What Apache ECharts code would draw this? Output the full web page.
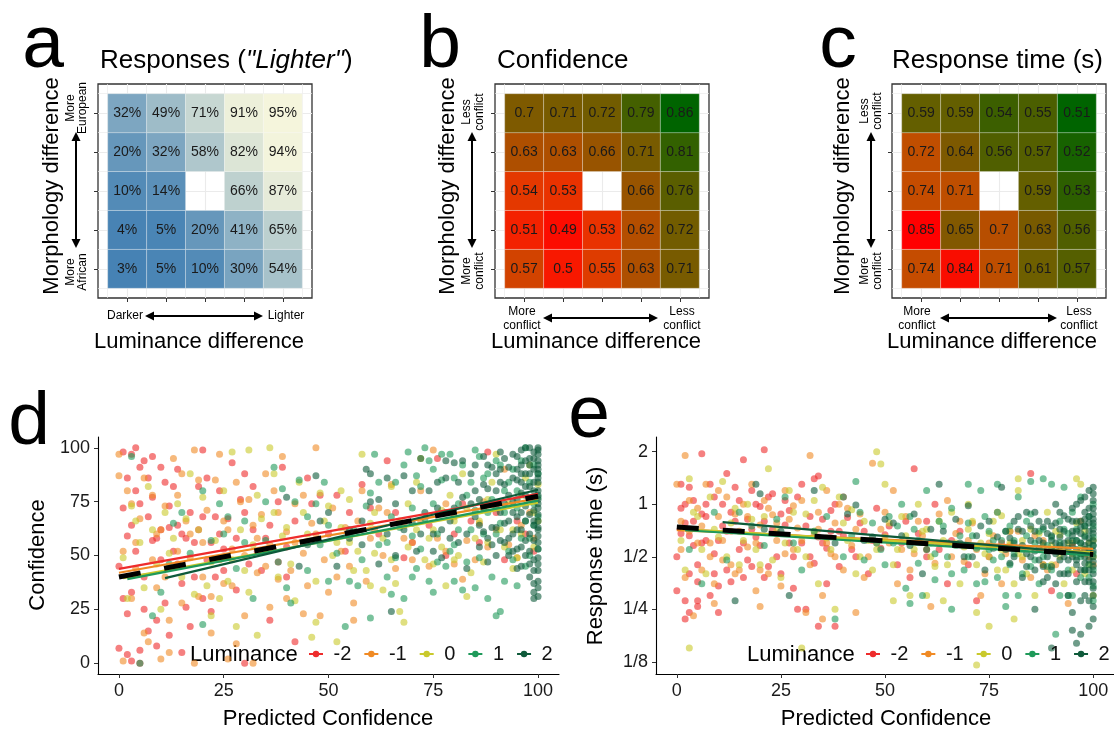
<!DOCTYPE html>
<html>
<head>
<meta charset="utf-8">
<title>figure</title>
<script src="https://cdn.jsdelivr.net/npm/echarts@6.0.0/dist/echarts.min.js"></script>
<style>
  html, body { margin: 0; padding: 0; background: #fff; }
  #fig { width: 1114px; height: 731px; }
</style>
</head>
<body>
<div id="fig"></div>
<script>
// ---------- data ----------
var levels = [-2, -1, 0, 1, 2];
var lumNames = ['-2', '-1', '0', '1', '2'];

// heatmaps: rows bottom -> top (morphology -2..2), columns luminance -2..2, null = no stimulus
var lighterPct = [
  [3, 5, 10, 30, 54],
  [4, 5, 20, 41, 65],
  [10, 14, null, 66, 87],
  [20, 32, 58, 82, 94],
  [32, 49, 71, 91, 95]
];
var confMean = [
  [0.57, 0.5, 0.55, 0.63, 0.71],
  [0.51, 0.49, 0.53, 0.62, 0.72],
  [0.54, 0.53, null, 0.66, 0.76],
  [0.63, 0.63, 0.66, 0.71, 0.81],
  [0.7, 0.71, 0.72, 0.79, 0.86]
];
var rtMean = [
  [0.74, 0.84, 0.71, 0.61, 0.57],
  [0.85, 0.65, 0.7, 0.63, 0.56],
  [0.74, 0.71, null, 0.59, 0.53],
  [0.72, 0.64, 0.56, 0.57, 0.52],
  [0.59, 0.59, 0.54, 0.55, 0.51]
];

var pctTicks = [0, 25, 50, 75, 100];
var rtTicks = [0.125, 0.25, 0.5, 1, 2];
var rtTickLabels = ['1/8', '1/4', '1/2', '1', '2'];

// panel d: [predicted confidence, confidence] per luminance level
var confM2 = [[0,7],[1,72],[1,98],[2,59],[2,23],[3,97],[3,33],[4,100],[4,80],[5,91],[5,6],[6,94],[6,25],[7,86],[7,15],[8,57],[8,77],[9,58],[9,20],[10,91],[10,62],[11,84],[12,63],[12,13],[13,82],[14,64],[14,46],[15,37],[16,58],[17,17],[18,56],[19,82],[20,99],[20,68],[21,48],[22,24],[23,68],[24,60],[25,43],[27,93],[28,34],[29,76],[30,70],[31,46],[32,82],[33,52],[35,58],[36,20],[38,47],[39,91],[40,54],[42,10],[45,86],[48,78],[52,78],[55,70],[60,72],[64,94],[68,49],[76,95],[80,60],[84,66],[88,98],[92,48],[97,60],[3,1],[5,0],[15,5],[30,0],[2,4],
  [0,45],[1,30],[2,86],[3,64],[4,52],[5,74],[6,40],[7,68],[8,96],[9,8],[10,48],[11,28],[12,73],[13,52],[14,90],[15,60],[16,26],[17,70],[18,40],[19,62],[20,30],[21,86],[22,56],[23,40],[24,80],[25,53],[26,67],[28,58],[30,88],[32,62],[34,43],[36,64],[38,75],[40,40],[42,66],[44,56],[46,74],[50,60],[54,52],[58,83],[62,60],[66,70],[70,56],[74,64],[78,50],[82,74],[86,56],[90,70],[95,66],[99,52]];
var confM1 = [[0,97],[0,87],[1,1],[2,80],[3,74],[4,56],[5,67],[6,86],[7,10],[8,48],[9,35],[10,62],[11,73],[12,20],[13,95],[14,52],[15,88],[16,66],[17,49],[18,99],[19,31],[20,40],[21,71],[22,31],[23,85],[24,97],[25,37],[26,62],[27,53],[28,9],[29,75],[30,22],[31,76],[32,0],[33,58],[34,69],[35,45],[36,26],[37,80],[38,39],[39,96],[40,61],[41,43],[42,74],[44,51],[46,65],[47,100],[48,22],[50,33],[52,40],[54,63],[56,28],[58,80],[60,58],[62,72],[65,83],[68,58],[70,48],[72,80],[75,99],[78,74],[80,46],[82,39],[86,65],[88,54],[92,90],[95,49],[98,70],
  [1,52],[3,30],[4,44],[6,14],[8,78],[9,60],[11,40],[12,5],[14,78],[15,28],[17,60],[19,85],[20,56],[22,14],[24,48],[25,66],[27,36],[28,84],[30,50],[32,64],[33,42],[35,88],[36,55],[38,70],[40,30],[42,56],[44,78],[45,36],[47,60],[49,48],[51,72],[53,52],[55,45],[57,66],[59,38],[61,62],[63,50],[64,70],[66,44],[68,64],[70,56],[72,66],[74,45],[76,58],[78,52],[80,68],[83,57],[85,48],[87,75],[90,62],[93,55],[96,64],[99,58],[18,0],[26,2],[10,2],[44,23],[56,20]];
var conf0 = [[1,49],[3,73],[4,66],[6,35],[8,62],[10,25],[12,51],[14,74],[16,67],[18,32],[20,77],[22,47],[24,30],[26,38],[27,98],[28,17],[30,43],[31,99],[32,55],[34,67],[36,100],[37,88],[38,40],[40,63],[42,29],[44,70],[46,12],[47,19],[48,79],[50,73],[52,56],[53,80],[55,56],[56,43],[58,97],[60,65],[61,51],[63,34],[65,82],[66,37],[67,24],[69,74],[71,62],[72,95],[74,58],[75,46],[77,71],[78,36],[80,66],[82,88],[83,31],[85,58],[87,47],[88,76],[90,97],[92,54],[94,62],[95,49],[96,78],[98,92],[99,70],[100,83],
  [2,30],[5,56],[7,82],[9,46],[11,70],[13,58],[15,40],[17,88],[19,62],[21,36],[23,57],[25,80],[27,48],[29,62],[31,33],[33,78],[35,52],[37,70],[39,59],[41,46],[43,84],[45,60],[47,38],[49,66],[51,50],[53,63],[55,76],[57,52],[59,43],[61,70],[63,58],[65,48],[67,66],[69,54],[71,84],[73,48],[75,62],[77,54],[79,78],[81,50],[83,72],[84,42],[86,66],[88,56],[89,84],[91,62],[93,74],[94,44],[96,60],[97,86],[99,54],[100,66],[33,13],[52,10],[22,22],[68,19],[60,36],[80,48]];
var confP1 = [[3,96],[5,0],[10,33],[13,65],[17,51],[20,18],[22,57],[24,74],[26,68],[28,44],[30,66],[32,30],[35,57],[37,91],[39,81],[41,28],[43,85],[45,43],[47,74],[49,84],[50,38],[52,51],[54,17],[56,62],[57,36],[59,73],[60,21],[61,97],[62,55],[64,40],[65,68],[66,49],[68,30],[69,98],[70,72],[71,87],[72,53],[73,100],[74,38],[75,90],[76,60],[77,85],[78,45],[79,97],[80,55],[81,74],[82,34],[83,78],[84,62],[85,99],[86,49],[87,86],[88,70],[89,40],[90,22],[90,94],[91,24],[91,65],[92,80],[93,52],[94,90],[95,72],[96,58],[97,100],[97,45],[98,84],[99,64],[99,92],[100,77],[100,53],
  [60,79],[62,84],[64,56],[66,84],[67,63],[68,92],[70,59],[71,44],[72,82],[73,67],[74,94],[75,74],[76,47],[77,97],[78,70],[79,52],[80,86],[81,62],[82,92],[83,47],[84,84],[85,71],[86,96],[87,60],[88,88],[89,76],[90,60],[91,92],[92,70],[93,84],[94,48],[95,80],[96,94],[97,66],[98,58],[99,74],[100,88],[100,68],[98,50],[95,36],[92,38],[88,30],[85,35],[80,38],[75,33],[70,40],[65,32],[58,48],[55,38],[50,64],[48,55],[45,68],[42,75],[38,47],[35,75],[30,56],[25,60],[20,80],[15,70],[8,22],[12,46],[40,35]];
var confP2 = [[40,77],[43,45],[47,87],[50,70],[55,58],[58,55],[59,90],[60,75],[62,46],[64,86],[65,24],[66,50],[68,87],[70,65],[71,52],[72,95],[74,80],[75,60],[76,72],[77,49],[78,86],[79,66],[80,93],[81,56],[82,77],[83,44],[84,88],[85,68],[86,54],[87,96],[88,81],[88,47],[89,63],[90,88],[90,72],[91,57],[91,98],[92,83],[92,65],[93,50],[93,91],[94,75],[94,60],[95,96],[95,85],[95,68],[95,53],[96,92],[96,79],[96,62],[96,45],[97,100],[97,88],[97,73],[97,57],[98,95],[98,82],[98,69],[98,52],[98,40],[99,98],[99,90],[99,77],[99,64],[99,48],[99,37],[99,33],[99,30],[100,100],[100,94],[100,86],[100,80],[100,72],[100,66],[100,59],[100,53],[100,46],[100,97],[100,90],[100,76],[100,62],[100,35],[100,31],
  [85,92],[86,76],[87,61],[87,83],[88,58],[89,91],[89,74],[90,50],[90,63],[91,84],[91,70],[92,95],[92,56],[93,78],[93,66],[94,86],[94,52],[94,97],[95,76],[95,62],[95,44],[96,88],[96,70],[96,54],[96,99],[97,94],[97,82],[97,66],[97,50],[98,100],[98,88],[98,76],[98,60],[98,46],[99,95],[99,84],[99,71],[99,57],[99,43],[100,99],[100,92],[100,84],[100,78],[100,69],[100,63],[100,56],[100,49],[100,43],[100,38],[100,88],[100,74],[99,80],[99,66],[98,92],[97,78],[96,84],[95,90],[94,70],[93,58],[92,74],[91,90],[90,80],[89,55],[88,92],[87,72],[86,64],[85,80],[84,74],[83,60],[82,94],[81,84],[80,72],[79,58],[78,94],[77,62],[76,84],[75,52],[73,70],[72,60],[70,80],[68,62],[66,74],[64,60],[62,76],[60,88],[58,66],[55,62],[52,45],[48,66],[45,55]];

// panel e: [predicted confidence, response time in s]
var rtM2 = [[0,0.32],[1,0.95],[1,1.3],[2,0.78],[2,0.28],[3,0.66],[3,1.25],[4,0.58],[4,1.05],[5,0.45],[5,0.36],[6,1.95],[6,0.88],[7,1.0],[7,0.62],[8,0.3],[9,1.1],[9,0.52],[10,0.34],[11,0.75],[12,1.5],[12,0.42],[13,0.9],[14,1.25],[15,0.55],[16,1.8],[16,0.38],[17,0.82],[18,1.2],[18,0.44],[19,0.65],[20,0.97],[21,2.05],[21,0.38],[22,1.1],[23,0.72],[24,0.5],[25,0.88],[26,1.05],[27,0.6],[28,0.33],[30,1.3],[31,0.25],[32,0.85],[33,0.46],[34,1.45],[35,0.6],[36,0.35],[37,0.92],[38,0.2],[39,0.7],[40,1.1],[42,0.55],[44,0.78],[46,0.4],[48,0.95],[50,0.67],[53,0.45],[55,0.8],[57,1.6],[60,0.5],[62,1.0],[65,0.35],[68,0.7],[72,0.28],[78,0.6],[85,1.5],[90,0.32],[95,0.6],
  [0,0.5],[1,0.68],[2,1.0],[3,0.4],[4,0.8],[5,0.28],[6,0.6],[7,0.85],[8,1.3],[9,0.4],[10,0.62],[11,1.0],[12,0.7],[13,0.36],[14,0.8],[15,1.05],[16,0.6],[17,0.48],[18,0.72],[19,1.0],[20,0.58],[21,0.8],[22,0.44],[23,1.15],[24,0.68],[25,0.4],[26,0.76],[27,0.92],[28,0.5],[29,1.1],[30,0.6],[31,0.75],[32,0.5],[33,1.4],[34,0.65],[35,0.82],[36,0.56],[37,0.7],[38,1.0],[39,0.44],[40,0.66],[41,0.84],[43,0.5],[45,0.7],[47,0.62],[49,0.56],[51,0.75],[54,0.6],[56,0.38],[58,0.68],[60,0.8],[63,0.55],[66,0.62],[70,0.45],[75,0.5],[80,0.7],[88,0.45],[96,0.4],[98,0.55],[2,0.22],[3,0.24],[5,0.26],[29,0.25],[34,0.2],[10,0.24]];
var rtM1 = [[0,1.3],[1,0.55],[2,1.9],[3,0.7],[4,0.23],[5,0.95],[6,0.42],[7,1.3],[8,0.6],[9,0.27],[10,0.85],[11,0.48],[12,1.1],[13,0.7],[14,0.88],[15,0.42],[16,1.0],[17,0.57],[18,1.3],[19,0.32],[20,0.76],[21,1.05],[22,0.4],[23,0.87],[24,0.62],[25,0.34],[26,1.2],[27,0.82],[28,0.55],[29,0.73],[30,1.05],[31,0.24],[32,1.9],[33,0.67],[34,0.9],[35,0.3],[36,1.2],[37,0.52],[38,0.78],[40,0.42],[41,0.95],[43,0.72],[45,0.38],[47,1.72],[48,0.6],[50,0.9],[52,1.2],[54,0.55],[56,0.42],[58,0.8],[60,0.55],[61,0.26],[63,0.88],[65,1.05],[67,0.68],[69,0.47],[71,0.78],[73,0.3],[75,0.6],[77,0.9],[79,0.52],[82,0.7],[85,0.38],[88,0.62],[91,0.45],[94,0.27],[97,0.8],[99,0.5],
  [1,0.8],[2,0.38],[3,1.05],[5,0.6],[6,0.75],[8,0.5],[10,1.2],[11,0.62],[13,0.45],[15,0.7],[17,0.85],[19,0.6],[20,0.42],[22,0.95],[24,0.78],[26,0.52],[28,0.98],[30,0.62],[32,0.45],[34,0.72],[36,0.6],[38,0.5],[39,1.0],[42,0.58],[44,0.88],[46,0.5],[49,0.72],[51,0.6],[53,0.35],[55,0.85],[57,0.52],[59,0.66],[62,0.46],[64,0.6],[66,0.5],[68,0.8],[70,0.62],[72,0.55],[74,0.4],[76,0.66],[78,0.35],[80,0.58],[83,0.48],[86,0.66],[89,0.42],[92,0.56],[95,0.6],[98,0.52],[100,0.45],[20,0.26],[35,0.22],[43,0.24],[14,0.4],[9,0.35]];
var rt0 = [[1,0.62],[3,0.15],[3,1.4],[5,0.85],[7,0.4],[9,0.72],[11,1.35],[12,0.5],[14,0.95],[16,0.62],[18,0.82],[20,0.45],[22,1.6],[24,0.7],[25,0.38],[27,1.2],[29,0.55],[30,0.15],[31,0.88],[33,1.05],[35,1.25],[36,0.64],[38,0.25],[40,0.78],[42,0.93],[44,0.5],[46,0.62],[47,0.42],[48,2.0],[49,1.7],[50,1.3],[51,0.78],[53,0.55],[55,0.66],[56,0.3],[58,1.0],[60,0.72],[62,0.44],[64,0.62],[66,0.9],[68,0.35],[69,0.57],[70,1.0],[71,0.8],[72,0.12],[72,0.24],[74,0.52],[75,0.68],[77,0.42],[78,0.86],[80,0.6],[81,0.35],[82,1.2],[83,0.5],[85,0.72],[86,0.3],[88,0.58],[89,0.9],[90,0.45],[92,0.67],[93,0.35],[95,0.52],[96,0.78],[97,1.3],[98,0.4],[99,0.6],[100,0.5],[100,0.3],
  [2,0.42],[4,0.9],[6,0.55],[8,1.1],[10,0.65],[13,0.78],[15,0.45],[17,1.0],[19,0.55],[21,0.85],[23,0.48],[26,0.6],[28,0.9],[31,0.5],[33,0.7],[34,0.35],[37,0.55],[39,1.1],[41,0.62],[43,0.4],[45,0.8],[48,0.55],[50,0.65],[52,0.45],[54,0.85],[57,0.55],[59,0.7],[61,0.5],[63,0.8],[65,0.45],[67,0.6],[70,0.72],[72,0.45],[73,0.6],[75,0.5],[76,0.8],[78,0.55],[79,0.42],[80,0.7],[82,0.52],[83,0.62],[84,0.4],[85,0.55],[87,0.68],[88,0.45],[90,0.58],[91,0.7],[92,0.5],[94,0.6],[95,0.42],[97,0.56],[98,0.7],[99,0.45],[100,0.62],[96,1.4],[82,1.4],[64,0.28],[60,0.3],[52,0.28],[81,0.22],[75,0.2]];
var rtP1 = [[3,0.55],[6,0.35],[9,0.9],[12,0.48],[15,0.9],[18,0.75],[21,0.58],[24,0.82],[26,1.1],[28,0.6],[30,0.42],[33,0.7],[36,0.85],[38,0.22],[40,1.1],[42,0.66],[43,1.35],[45,0.48],[47,0.78],[49,0.55],[51,0.85],[52,0.6],[54,1.0],[55,0.33],[57,0.72],[58,0.46],[60,1.2],[61,0.6],[62,0.37],[63,0.8],[65,0.5],[66,0.95],[68,0.66],[69,0.42],[70,0.78],[72,0.56],[73,1.2],[74,0.36],[75,0.7],[76,0.48],[77,0.9],[78,0.62],[79,0.3],[80,0.75],[81,0.52],[82,1.1],[83,0.4],[84,0.66],[85,0.88],[86,0.48],[87,0.35],[88,0.72],[89,0.58],[90,1.3],[90,0.42],[91,0.18],[92,0.8],[93,0.55],[94,0.68],[94,0.3],[95,0.9],[96,0.5],[96,0.62],[97,1.1],[97,0.38],[98,0.75],[98,0.55],[99,0.85],[99,0.45],[100,0.65],[100,0.28],[100,1.0],
  [40,0.5],[44,0.9],[48,0.6],[50,0.45],[53,0.75],[56,0.85],[58,0.62],[59,0.3],[62,0.52],[64,0.75],[66,0.4],[67,0.58],[70,0.5],[71,0.66],[72,0.35],[74,0.85],[75,0.55],[76,0.62],[77,0.38],[78,0.5],[79,0.7],[80,0.45],[81,0.62],[82,0.3],[83,0.55],[84,0.8],[85,0.44],[86,0.6],[87,0.7],[88,0.5],[89,0.44],[90,0.65],[91,0.55],[92,0.3],[92,0.6],[93,0.72],[94,0.42],[95,0.62],[95,0.3],[96,0.72],[97,0.5],[97,0.6],[98,0.42],[98,0.66],[99,0.38],[99,0.56],[100,0.52],[100,0.42],[100,0.75],[100,0.58],[100,0.34],[88,1.4],[85,1.35],[77,1.3],[70,1.3],[93,1.25],[66,0.25],[79,0.26],[56,0.27]];
var rtP2 = [[14,0.28],[19,1.3],[20,1.15],[27,0.3],[33,1.2],[41,0.88],[43,0.99],[47,0.65],[52,0.78],[56,0.58],[59,0.4],[61,0.72],[63,1.3],[65,0.6],[67,0.82],[69,0.5],[70,0.98],[72,0.66],[74,0.42],[75,0.8],[76,0.56],[78,1.25],[79,0.7],[80,0.46],[81,0.6],[82,0.85],[83,0.38],[84,0.52],[85,0.75],[86,0.9],[86,0.25],[87,0.62],[88,0.44],[89,0.8],[90,0.55],[90,0.66],[91,1.0],[91,0.35],[92,0.48],[92,0.72],[93,0.6],[93,0.86],[94,0.4],[94,0.56],[95,0.24],[95,0.7],[95,0.95],[96,0.45],[96,0.62],[96,0.8],[97,0.18],[97,0.52],[97,0.68],[97,1.05],[98,0.3],[98,0.42],[98,0.58],[98,0.75],[98,0.9],[99,0.2],[99,0.36],[99,0.48],[99,0.6],[99,0.7],[99,0.85],[99,1.2],[100,0.26],[100,0.33],[100,0.4],[100,0.47],[100,0.54],[100,0.62],[100,0.72],[100,0.82],[100,0.95],[100,1.15],[100,1.25],[100,0.3],
  [80,0.64],[81,0.5],[82,0.72],[83,0.58],[84,0.9],[84,0.44],[85,0.62],[86,0.54],[86,0.7],[87,0.48],[87,0.8],[88,0.6],[88,0.36],[89,0.68],[89,0.5],[90,0.44],[90,0.75],[91,0.6],[91,0.52],[92,0.65],[92,0.4],[92,0.9],[93,0.5],[93,0.7],[94,0.62],[94,0.82],[94,0.3],[95,0.5],[95,0.58],[95,0.8],[96,0.36],[96,0.7],[96,0.55],[96,1.0],[97,0.6],[97,0.42],[97,0.8],[97,0.28],[98,0.5],[98,0.65],[98,0.82],[98,1.1],[98,0.36],[99,0.54],[99,0.42],[99,0.78],[99,0.95],[99,0.28],[100,0.58],[100,0.68],[100,0.5],[100,0.44],[100,0.36],[100,0.88],[100,1.05],[100,0.78],[100,0.22],[99,0.64],[98,0.46],[97,0.74],[96,0.48],[95,0.66],[94,0.48],[93,0.4],[92,0.58],[91,0.78],[90,0.62],[89,0.38],[88,0.74],[87,0.56],[86,0.42],[85,0.5],[83,0.7],[81,0.8],[79,0.55],[77,0.65],[73,0.75],[71,0.5],[68,0.6],[64,0.7],[60,0.55],[57,0.88],[54,0.66],[50,0.82],[45,0.62],[38,0.6],[25,0.7],[21,0.72],[96,0.16],[95,0.19],[90,0.15]];

// fitted lines per luminance level (-2..2) and the overall fit
var fitConf = [[[0,43.8],[100,78.6]], [[0,42],[100,76.5]], [[1,39.5],[100,74.5]], [[2,39],[100,75.5]], [[11,39.5],[100,80.5]]];
var fitConfAll = [[0,40],[100,77.5]];
var fitRt = [[[0,0.72],[100,0.53]], [[0,0.71],[100,0.555]], [[1,0.72],[100,0.53]], [[2,0.71],[100,0.51]], [[11,0.79],[100,0.52]]];
var fitRtAll = [[0,0.74],[100,0.515]];

// ---------- styles ----------
var FONT = '"Liberation Sans", Arial, Helvetica, sans-serif';
var lumColors = ['#EE2C2C', '#F08A24', '#C9C92C', '#1F9A5A', '#0E5A3A'];
var blueRamp = ['#4682B4', '#F5F5DC'];
var confRamp = ['#FF0000','#F81800','#EE2C00','#E43800','#D84000','#CC4600','#C04A00','#B44E00','#A85000','#985400','#8A5700','#7E5A00','#725C00','#665D00','#5A5E00','#4C6000','#3C6000','#2A6200','#166300','#006400'];
var rtRamp = ['#006400','#2D5F00','#4B5F00','#555F00','#645F00','#6E5F00','#785A00','#825800','#9C5400','#B04E00','#BE4E00','#C24D00','#C84A00','#D24000','#DC3400','#E82800','#F21A00','#FF0000'];

var grid = [], xAxis = [], yAxis = [], series = [], visualMap = [], graphic = [];

// ---------- heatmap panels ----------
function tileAxis(gi, pos, ticks, showTick, w) {
  return {
    type: 'value', gridIndex: gi, position: pos, min: -2.75, max: 2.75,
    axisLine: { show: false, onZero: false },
    axisLabel: { show: false },
    axisTick: { show: showTick, customValues: ticks, length: 4, lineStyle: { color: '#333', width: 1 } },
    splitLine: { show: true, lineStyle: { color: '#EBEBEB', width: w } }
  };
}

function tiles(matrix) {
  var out = [];
  matrix.forEach(function (row, r) {
    row.forEach(function (v, c) {
      if (v !== null) out.push([levels[c], levels[r], v]);
    });
  });
  return out;
}

function heatPanel(left, matrix, fmt, range, colors) {
  var gi = grid.length;
  grid.push({ left: left, top: 84, width: 214, height: 214, show: true, borderColor: '#333', borderWidth: 1.3 });
  var xi = xAxis.length, yi = yAxis.length;
  var minor = [-2.5, -1.5, -0.5, 0.5, 1.5, 2.5];
  xAxis.push(tileAxis(gi, 'bottom', levels, true, 1.1), tileAxis(gi, 'bottom', minor, false, 0.7));
  yAxis.push(tileAxis(gi, 'left', levels, true, 1.1), tileAxis(gi, 'left', minor, false, 0.7));
  visualMap.push({ type: 'continuous', show: false, seriesIndex: series.length, dimension: 2,
    min: range[0], max: range[1], inRange: { color: colors } });
  series.push({
    type: 'custom', xAxisIndex: xi, yAxisIndex: yi, data: tiles(matrix),
    encode: { x: 0, y: 1 }, silent: true, animation: false,
    renderItem: function (params, api) {
      var x = api.value(0), y = api.value(1);
      var p0 = api.coord([x - 0.5, y + 0.5]), p1 = api.coord([x + 0.5, y - 0.5]);
      return { type: 'group', children: [
        { type: 'rect', shape: { x: p0[0], y: p0[1], width: p1[0] - p0[0], height: p1[1] - p0[1] },
          style: { fill: api.visual('color'), stroke: 'rgba(255,255,255,0.35)', lineWidth: 0.8 } },
        { type: 'text', style: { text: fmt(api.value(2)), x: (p0[0] + p1[0]) / 2, y: (p0[1] + p1[1]) / 2,
          align: 'center', verticalAlign: 'middle', fontSize: 14, fontFamily: FONT, fill: '#1a1a1a' } }
      ]};
    }
  });
}

heatPanel(98, lighterPct, function (v) { return v + '%'; }, [3, 95], blueRamp);
heatPanel(495, confMean, function (v) { return String(v); }, [0.48, 0.86], confRamp);
heatPanel(892, rtMean, function (v) { return String(v); }, [0.51, 0.85], rtRamp);

// ---------- scatter panels ----------
function valAxis(gi, pos, min, max, ticks, fmt) {
  return {
    type: 'value', gridIndex: gi, position: pos, min: min, max: max,
    axisLine: { show: true, onZero: false, lineStyle: { color: '#000', width: 1.1 } },
    axisTick: { show: true, customValues: ticks, length: 4, lineStyle: { color: '#333', width: 1 } },
    axisLabel: { customValues: ticks, formatter: fmt, fontSize: 18, fontFamily: FONT, color: '#1a1a1a', margin: 8 },
    splitLine: { show: false }
  };
}

function scatterPanel(left, width, groups, fits, fitAll, yMin, yMax, yTicks, yFmt, tf) {
  var gi = grid.length;
  grid.push({ left: left, top: 437, width: width, height: 237 });
  var xi = xAxis.length, yi = yAxis.length;
  xAxis.push(valAxis(gi, 'bottom', -5, 105, pctTicks, function (v) { return String(v); }));
  yAxis.push(valAxis(gi, 'left', yMin, yMax, yTicks, yFmt));
  var conv = function (p) { return [p[0], tf(p[1])]; };
  fits.forEach(function (f, i) {
    series.push({ type: 'line', name: lumNames[i], xAxisIndex: xi, yAxisIndex: yi, data: f.map(conv),
      showSymbol: false, symbol: 'circle', symbolSize: 7, z: 3, silent: true, animation: false,
      itemStyle: { color: lumColors[i] }, lineStyle: { color: lumColors[i], width: 2.2 } });
  });
  series.push({ type: 'line', name: 'all', xAxisIndex: xi, yAxisIndex: yi, data: fitAll.map(conv),
    showSymbol: false, z: 4, silent: true, animation: false,
    lineStyle: { color: '#000', width: 5, type: [22, 24] } });
  groups.forEach(function (g, i) {
    series.push({ type: 'scatter', name: lumNames[i], xAxisIndex: xi, yAxisIndex: yi, data: g.map(conv),
      symbolSize: 7, z: 2, silent: true, animation: false,
      itemStyle: { color: lumColors[i], opacity: 0.6 } });
  });
}

scatterPanel(98, 461, [confM2, confM1, conf0, confP1, confP2], fitConf, fitConfAll,
  -5, 105, pctTicks, function (v) { return String(v); }, function (v) { return v; });

var rtLogTicks = rtTicks.map(Math.log2);
scatterPanel(656, 458, [rtM2, rtM1, rt0, rtP1, rtP2], fitRt, fitRtAll,
  -3.23, 1.28, rtLogTicks, function (v) { return rtTickLabels[rtLogTicks.indexOf(v)]; }, Math.log2);

// ---------- annotations ----------
function txt(x, y, text, size, rot, align, extra) {
  var st = { text: text, fontSize: size, fontFamily: FONT, fill: '#000', align: align || 'center', verticalAlign: 'middle' };
  if (extra) for (var k in extra) st[k] = extra[k];
  return { type: 'text', x: x, y: y, rotation: rot || 0, style: st };
}

function arrow(x1, y1, x2, y2) {
  var dx = x2 - x1, dy = y2 - y1, L = Math.sqrt(dx * dx + dy * dy), ux = dx / L, uy = dy / L, h = 9, w = 4.5;
  function head(px, py, sx, sy) {
    return { type: 'polygon', shape: { points: [[px, py],
      [px - sx * h - sy * w, py - sy * h + sx * w], [px - sx * h + sy * w, py - sy * h - sx * w]] },
      style: { fill: '#000' } };
  }
  return [
    { type: 'line', shape: { x1: x1 + ux * 6, y1: y1 + uy * 6, x2: x2 - ux * 6, y2: y2 - uy * 6 }, style: { stroke: '#000', lineWidth: 2 } },
    head(x2, y2, ux, uy), head(x1, y1, -ux, -uy)
  ];
}

var R = Math.PI / 2;
graphic.push(
  txt(43, 46, 'a', 75), txt(440, 46, 'b', 75), txt(838, 46, 'c', 75),
  txt(29, 423, 'd', 75), txt(589, 416, 'e', 75),
  txt(100, 61, '{n|Responses (}{i|"Lighter"}{n|)}', 26, 0, 'left', {
    rich: { n: { fontSize: 26, fontFamily: FONT, fill: '#000' }, i: { fontSize: 26, fontFamily: FONT, fontStyle: 'italic', fill: '#000' } } }),
  txt(497, 61, 'Confidence', 26, 0, 'left'),
  txt(892, 61, 'Response time (s)', 26, 0, 'left'),
  txt(52, 186, 'Morphology difference', 22, R), txt(448, 186, 'Morphology difference', 22, R), txt(843, 186, 'Morphology difference', 22, R),
  txt(199, 342, 'Luminance difference', 22), txt(596, 342, 'Luminance difference', 22), txt(992, 342, 'Luminance difference', 22),
  txt(77, 108, 'More\nEuropean', 12, R, 'center', { lineHeight: 12 }),
  txt(77, 272, 'More\nAfrican', 12, R, 'center', { lineHeight: 12 }),
  txt(473, 112, 'Less\nconflict', 12, R, 'center', { lineHeight: 13 }),
  txt(473, 271, 'More\nconflict', 12, R, 'center', { lineHeight: 13 }),
  txt(871, 111, 'Less\nconflict', 12, R, 'center', { lineHeight: 13 }),
  txt(871, 271, 'More\nconflict', 12, R, 'center', { lineHeight: 13 }),
  txt(125, 316, 'Darker', 12), txt(286, 316, 'Lighter', 12),
  txt(522, 319, 'More\nconflict', 12, 0, 'center', { lineHeight: 14 }),
  txt(682, 319, 'Less\nconflict', 12, 0, 'center', { lineHeight: 14 }),
  txt(917, 319, 'More\nconflict', 12, 0, 'center', { lineHeight: 14 }),
  txt(1079, 319, 'Less\nconflict', 12, 0, 'center', { lineHeight: 14 }),
  txt(38, 555, 'Confidence', 22, R), txt(596, 556, 'Response time (s)', 22, R),
  txt(328, 719, 'Predicted Confidence', 22), txt(886, 719, 'Predicted Confidence', 22),
  txt(190, 655, 'Luminance', 22, 0, 'left'), txt(747, 655, 'Luminance', 22, 0, 'left')
);
[[76, 132, 76, 248], [472, 132, 472, 248], [871, 132, 871, 248],
 [145, 316, 263, 316], [543, 318, 658, 318], [940, 318, 1057, 318]].forEach(function (a) {
  Array.prototype.push.apply(graphic, arrow(a[0], a[1], a[2], a[3]));
});

function legendAt(left) {
  return { data: lumNames, left: left, top: 644, orient: 'horizontal', padding: 0,
    itemWidth: 14, itemHeight: 8, itemGap: 12, selectedMode: false,
    formatter: function (n) { return ' ' + n; },
    textStyle: { fontSize: 20, fontFamily: FONT, color: '#111' } };
}

var chart = echarts.init(document.getElementById('fig'), null, { renderer: 'canvas' });
chart.setOption({
  animation: false,
  backgroundColor: '#fff',
  grid: grid, xAxis: xAxis, yAxis: yAxis,
  visualMap: visualMap,
  legend: [legendAt(308), legendAt(865)],
  series: series,
  graphic: graphic
});
</script>
</body>
</html>
